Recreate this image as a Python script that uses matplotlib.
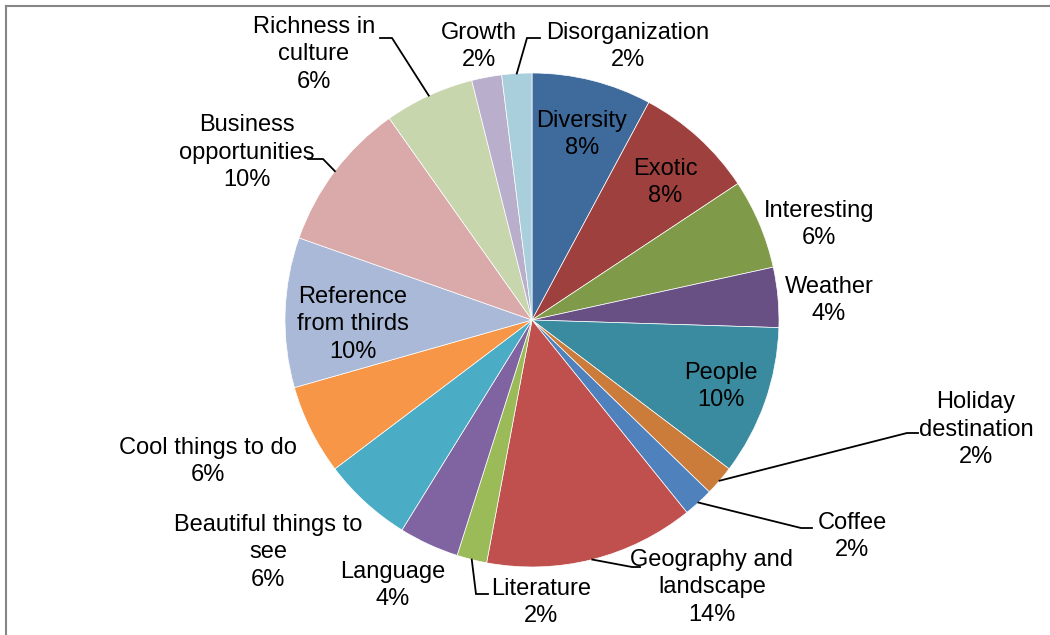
import numpy as np
import matplotlib
matplotlib.use("Agg")
import matplotlib.pyplot as plt
from matplotlib.lines import Line2D

plt.rcParams['font.family'] = ['Liberation Sans', 'DejaVu Sans']

# responses per reason (51 in total), clockwise from 12 o'clock
categories = ['Diversity', 'Exotic', 'Interesting', 'Weather', 'People',
              'Holiday\ndestination', 'Coffee', 'Geography and\nlandscape',
              'Literature', 'Language', 'Beautiful things to\nsee',
              'Cool things to do', 'Reference\nfrom thirds', 'Business\nopportunities',
              'Richness in\nculture', 'Growth', 'Disorganization']
counts = [4, 4, 3, 2, 5, 1, 1, 7, 1, 2, 3, 3, 5, 5, 3, 1, 1]

colors = ['#3F6A9C', '#9E413E', '#7F9A48', '#684F84', '#3B8BA0', '#CB7B3A',
          '#4F81BD', '#C0504D', '#9BBB59', '#8064A2', '#4BACC6', '#F79646',
          '#AAB9D7', '#D9AAA9', '#C7D6AD', '#B9AECC', '#A9CEDC']

W, H = 1050, 635
cx, cy, R = 532, 320, 247
line_h = 27.5  # pixel pitch between label lines

# label centres in pixels (y measured from the top)
label_pos = [(582, 132), (665, 180), (819, 222), (829, 298), (721, 384),
             (976, 427), (852, 534), (712, 585), (541, 600), (393, 583),
             (268, 550), (208, 459), (353, 322), (247, 150), (314, 52),
             (479, 44), (628, 44)]
# leader lines: index -> (elbow point, end point)
leaders = {5: ((907, 433), (918, 433)),
           6: ((801, 528), (812, 528)),
           7: ((632, 567), (640, 567)),
           8: ((476, 594), (488, 594)),
           13: ((323, 159), (308, 159)),
           14: ((392, 38), (380, 38)),
           16: ((527, 38), (540, 38))}

fig = plt.figure(figsize=(W / 100, H / 100), dpi=100)
ax = fig.add_axes([0, 0, 1, 1])

wedges, _ = ax.pie(counts, colors=colors, startangle=90, counterclock=False,
                   center=(cx, H - cy), radius=R, frame=True,
                   wedgeprops=dict(edgecolor='white', linewidth=0.5))
ax.set_xlim(0, W)
ax.set_ylim(0, H)
ax.set_aspect('equal')
ax.axis('off')

total = sum(counts)
for i, (name, n) in enumerate(zip(categories, counts)):
    x, y = label_pos[i]
    lines = name.split('\n') + [f"{round(100 * n / total)}%"]
    top = y - line_h * (len(lines) - 1) / 2
    for k, line in enumerate(lines):
        ax.text(x, H - (top + k * line_h), line, ha='center', va='center_baseline',
                fontsize=17, color='black')
    if i in leaders:
        mid = np.deg2rad((wedges[i].theta1 + wedges[i].theta2) / 2)
        sx, sy = cx + R * np.cos(mid), (H - cy) + R * np.sin(mid)
        (ex, ey), (tx, ty) = leaders[i]
        ax.plot([sx, ex, tx], [sy, H - ey, H - ty], color='black', lw=1.3,
                solid_joinstyle='miter')

# chart area border
fig.add_artist(Line2D([5.5 / W, 5.5 / W], [0, 1 - 5.5 / H], color='#868686', lw=1.5))
fig.add_artist(Line2D([5.5 / W, 1], [1 - 5.5 / H, 1 - 5.5 / H], color='#868686', lw=1.5))

fig.savefig('out.png', dpi=100, facecolor='white')
